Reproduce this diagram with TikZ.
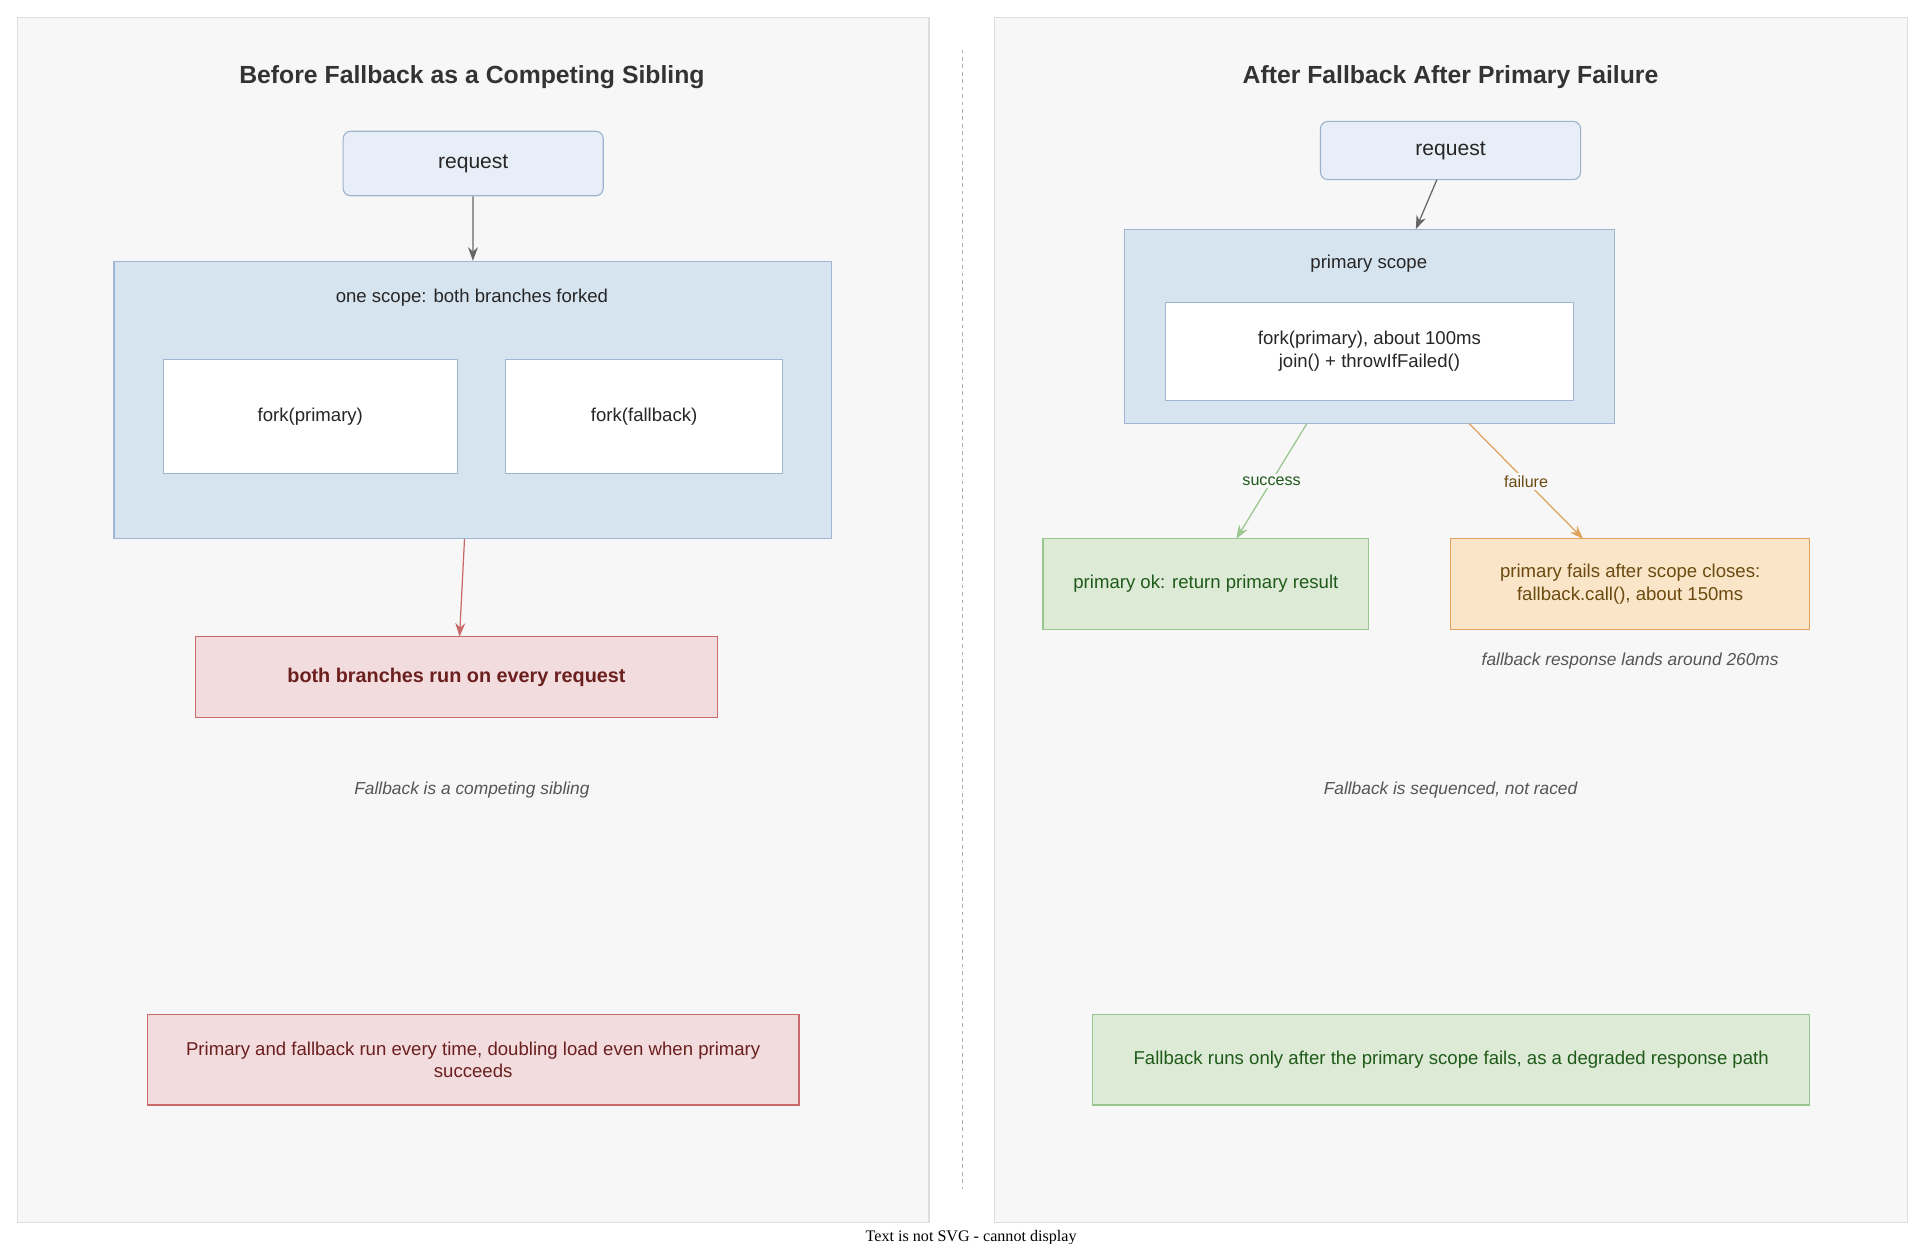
\documentclass[tikz,border=0pt]{standalone}
\usepackage{fontspec}
\setmainfont{Liberation Sans}
\newfontfamily\serifnote{Liberation Serif}
\usetikzlibrary{arrows.meta, positioning, calc}
\definecolor{panelbg}{HTML}{F7F7F7}
\definecolor{panelline}{HTML}{DDDDDD}
\definecolor{reqfill}{HTML}{E8EEF7}
\definecolor{reqline}{HTML}{9DB3CC}
\definecolor{scopefill}{HTML}{D6E4F0}
\definecolor{scopeline}{HTML}{9FB6D2}
\definecolor{badfill}{HTML}{F3DCDD}
\definecolor{badline}{HTML}{C96A6A}
\definecolor{badtext}{HTML}{6B1F1F}
\definecolor{okfill}{HTML}{DDEBD6}
\definecolor{okline}{HTML}{98C68E}
\definecolor{oktext}{HTML}{1F5A1A}
\definecolor{warnfill}{HTML}{FBE5C8}
\definecolor{warnline}{HTML}{E0A35C}
\definecolor{warntext}{HTML}{6B4A10}
\definecolor{notegray}{HTML}{555555}

\tikzset{
    box/.style = {draw, line width=0.9pt, align=center, inner sep=0pt, text=black!85},
    req/.style = {box, fill=reqfill, draw=reqline, rounded corners=6pt, font=\fontsize{17}{20}\selectfont},
    scope/.style = {box, fill=scopefill, draw=scopeline},
    task/.style = {box, fill=white, draw=scopeline, font=\fontsize{15}{18}\selectfont},
    bad/.style = {box, fill=badfill, draw=badline, text=badtext},
    ok/.style = {box, fill=okfill, draw=okline, text=oktext, font=\fontsize{15}{18}\selectfont},
    warn/.style = {box, fill=warnfill, draw=warnline, text=warntext, font=\fontsize{15}{18}\selectfont},
    note/.style = {text=notegray, font=\fontsize{14}{17}\selectfont\itshape},
    title/.style = {font=\fontsize{20}{24}\selectfont\bfseries, text=black!80},
    arr/.style = {-{Stealth[length=11pt, width=8pt]}, line width=1pt},
    lbl/.style = {fill=panelbg, inner sep=2pt, font=\fontsize{13}{15}\selectfont},
}

\begin{document}
\begin{tikzpicture}[x=1pt, y=-1pt]
        \useasboundingbox (0, 0) rectangle (1550, 1004);
        \fill [white] (0, 0) rectangle (1550, 1004);

        % panels
        \draw [fill=panelbg, draw=panelline, line width=1pt] (14, 14) rectangle (750, 987);
        \draw [fill=panelbg, draw=panelline, line width=1pt] (803, 14) rectangle (1540, 987);
        \draw [panelline!80!black, dashed, line width=0.8pt] (777, 40) -- (777, 960);

        % before
        \node [title] (Ltitle) at (381, 62) {Before Fallback as a Competing Sibling};
        \node [req, minimum width=210, minimum height=52] (Lreq) at (382, 132) {request};
        \node [scope, minimum width=579, minimum height=224] (Lscope) at (381.5, 323) {};
        \node [font=\fontsize{15}{18}\selectfont, text=black!85] (Lscopelbl) at (381, 240) {one scope: both branches forked};
        \node [task, minimum width=237, minimum height=92] (Lprim) at (250.5, 336) {fork(primary)};
        \node [task, minimum width=224, minimum height=92] (Lfall) at (520, 336) {fork(fallback)};
        \node [bad, minimum width=421, minimum height=65, font=\fontsize{16}{19}\selectfont\bfseries] (Lboth) at (368.5, 546.5) {both branches run on every request};
        \node [note] (Lnote) at (381, 638) {Fallback is a competing sibling};
        \node [bad, minimum width=526, minimum height=73, font=\fontsize{15}{18}\selectfont] (Lsum) at (382, 855.5) {Primary and fallback run every time, doubling load even when primary\\succeeds};

        \draw [arr, black!60] (Lreq) -- (Lscope);
        \coordinate (Lout) at (375, 435);
        \coordinate (Lin) at (371, 514);
        \draw [arr, badline] (Lout) -- (Lin);

        % after
        \node [title] (Rtitle) at (1171, 62) {After Fallback After Primary Failure};
        \node [req, minimum width=210, minimum height=47] (Rreq) at (1171, 121.5) {request};
        \node [scope, minimum width=395, minimum height=157] (Rscope) at (1105.5, 263.5) {};
        \node [font=\fontsize{15}{18}\selectfont, text=black!85] (Rscopelbl) at (1105, 213) {primary scope};
        \node [task, minimum width=329, minimum height=79] (Rprim) at (1105.5, 283.5) {fork(primary), about 100ms\\join() + throwIfFailed()};
        \node [ok, minimum width=263, minimum height=73] (Rok) at (973.5, 471.5) {primary ok: return primary result};
        \node [warn, minimum width=290, minimum height=73] (Rfail) at (1316, 471.5) {primary fails after scope closes:\\fallback.call(), about 150ms};
        \node [note] (Rland) at (1316, 534) {fallback response lands around 260ms};
        \node [note] (Rnote) at (1171, 638) {Fallback is sequenced, not raced};
        \node [ok, minimum width=579, minimum height=73] (Rsum) at (1171.5, 855.5) {Fallback runs only after the primary scope fails, as a degraded response path};

        \coordinate (Rreqout) at (1160, 145);
        \coordinate (Rscopein) at (1143, 185);
        \draw [arr, black!60] (Rreqout) -- (Rscopein);
        \coordinate (Rsucc) at (1055, 342);
        \coordinate (Rokin) at (998, 435);
        \coordinate (Rfl) at (1186, 342);
        \coordinate (Rfailin) at (1278, 435);
        \draw [arr, okline] (Rsucc) -- node [lbl, text=oktext] {success} (Rokin);
        \draw [arr, warnline] (Rfl) -- node [lbl, text=warntext] {failure} (Rfailin);

        \node [font=\serifnote\fontsize{13}{15}\selectfont] (svg) at (784, 999) {Text is not SVG - cannot display};
\end{tikzpicture}
\end{document}
